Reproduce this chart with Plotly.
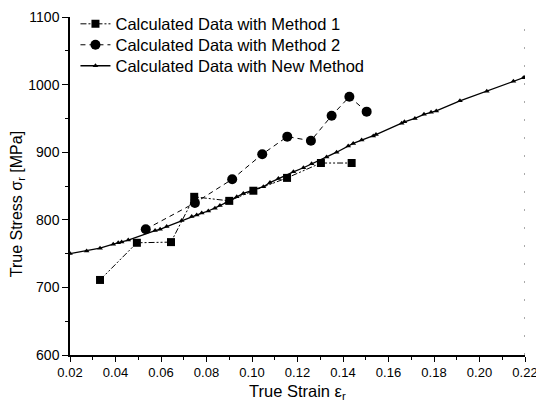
import plotly.graph_objects as go

# Strain / stress data for the three calculation methods
strain_m1 = [0.0332, 0.0494, 0.0644, 0.0746, 0.0900, 0.1006, 0.1154, 0.1303, 0.1438]
stress_m1 = [711, 766, 767, 834, 828, 843, 862, 884, 884]

strain_m2 = [0.0533, 0.0749, 0.0913, 0.1045, 0.1155, 0.1259, 0.1350, 0.1428, 0.1504]
stress_m2 = [786, 825, 860, 897, 923, 917, 954, 982, 960]

strain_new = [0.020, 0.0273, 0.0332, 0.039, 0.0412, 0.0427, 0.0456, 0.0574, 0.0596, 0.0625,
              0.0691, 0.0735, 0.0757, 0.0779, 0.0808, 0.0837, 0.0859, 0.0889, 0.0933, 0.0962,
              0.1005, 0.105, 0.1079, 0.1116, 0.1182, 0.1226, 0.1262, 0.1328, 0.1372, 0.1423,
              0.1445, 0.1482, 0.1533, 0.1545, 0.1658, 0.167, 0.1716, 0.1756, 0.1787, 0.181,
              0.1914, 0.2032, 0.2149, 0.2193, 0.220]
stress_new = [750, 754, 758, 764, 766, 767, 770, 784, 786, 790,
              799, 805, 807, 810, 813, 817, 821, 826, 834, 839,
              844, 849, 855, 861, 871, 877, 883, 893, 900, 909,
              913, 918, 924, 926, 943, 945, 950, 956, 959, 961,
              976, 990, 1005, 1010, 1011]

names = ["Calculated Data with Method 1",
         "Calculated Data with Method 2",
         "Calculated Data with New Method"]

x_ticks = [0.02, 0.04, 0.06, 0.08, 0.10, 0.12, 0.14, 0.16, 0.18, 0.20, 0.22]
x_ticklabels = ["0.02", "0.04", "0.06", "0.08", "0.10", "0.12", "0.14", "0.16", "0.18", "0.20", "0.22"]
y_ticks = [600, 700, 800, 900, 1000, 1100]

x_title = "True Strain ε<sub>r</sub>"
y_title = "True Stress σ<sub>r</sub> [MPa]"

fig = go.Figure()

fig.add_trace(go.Scatter(
    x=strain_m1, y=stress_m1, name=names[0], mode="lines+markers", legend="legend",
    line=dict(color="black", width=1, dash="6px,2px,2px,2px,2px,2px"),
    marker=dict(symbol="square", size=8, color="black"),
))
fig.add_trace(go.Scatter(
    x=strain_m2, y=stress_m2, name=names[1], mode="lines+markers", legend="legend2",
    line=dict(color="black", width=1, dash="5px,4px"),
    marker=dict(symbol="circle", size=10, color="black"),
))
fig.add_trace(go.Scatter(
    x=strain_new, y=stress_new, name=names[2], mode="lines+markers", legend="legend3",
    line=dict(color="black", width=1.3),
    marker=dict(symbol="triangle-up", size=5, color="black"),
))

# faint dotted right-hand frame edge
fig.add_shape(type="line", xref="x", yref="y", x0=0.22, x1=0.22, y0=600, y1=1100,
              line=dict(color="#555555", width=1, dash="2px,16px"))

# axis titles, placed as annotations
fig.add_annotation(text=y_title, xref="paper", yref="paper", x=-0.115, y=0.445,
                   textangle=-90, showarrow=False, font=dict(size=16),
                   xanchor="center", yanchor="middle")
fig.add_annotation(text=x_title, xref="paper", yref="paper", x=0.5, y=-0.073,
                   showarrow=False, font=dict(size=16.5),
                   xanchor="center", yanchor="top")

# one single-entry legend per series so the rows sit at set heights
legend_style = dict(x=0.012, xanchor="left", yanchor="middle",
                    bgcolor="rgba(0,0,0,0)", font=dict(size=16.5), itemwidth=30)

fig.update_layout(
    width=536, height=400,
    margin=dict(l=70, r=11, t=17, b=45, autoexpand=False),
    paper_bgcolor="white", plot_bgcolor="white",
    font=dict(family="Liberation Sans, Arial, sans-serif", color="black"),
    showlegend=True,
    legend=dict(y=0.979, **legend_style),
    legend2=dict(y=0.917, **legend_style),
    legend3=dict(y=0.855, **legend_style),
)

fig.update_xaxes(
    range=[0.02, 0.22], tickvals=x_ticks, ticktext=x_ticklabels,
    showgrid=False, zeroline=False, showline=True, linecolor="black", linewidth=1.5,
    ticks="outside", ticklen=5, tickwidth=1.2, tickcolor="black",
    tickfont=dict(size=13), ticklabeloverflow="allow", automargin=False,
    minor=dict(dtick=0.01, ticks="outside", ticklen=3, tickcolor="black", tickwidth=1),
)
fig.update_yaxes(
    range=[600, 1100], tickvals=y_ticks, automargin=False,
    showgrid=False, zeroline=False, showline=True, linecolor="black", linewidth=1.5,
    ticks="outside", ticklen=6, tickwidth=1.2, tickcolor="black",
    tickfont=dict(size=14),
    minor=dict(dtick=50, ticks="outside", ticklen=3, tickcolor="black", tickwidth=1),
)

fig.write_html("out.html")
